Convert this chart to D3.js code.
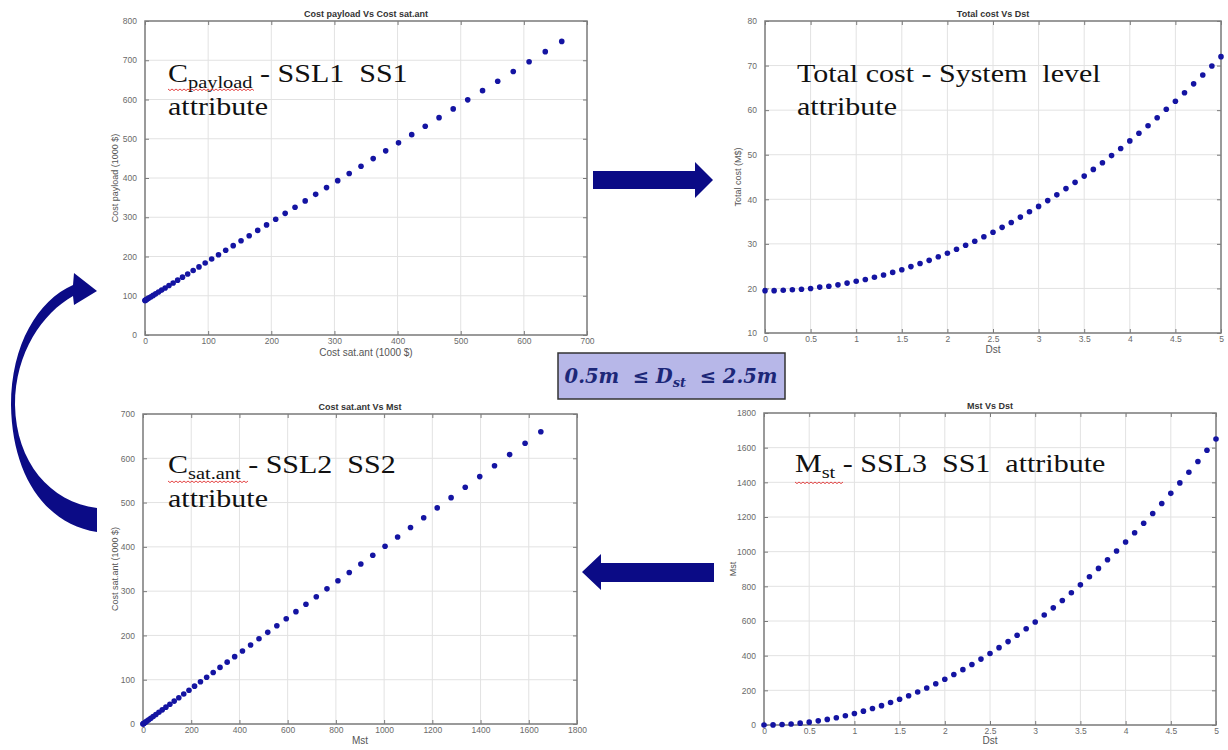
<!DOCTYPE html>
<html><head><meta charset="utf-8">
<script src="https://cdn.jsdelivr.net/npm/d3@7"></script>
<style>
html,body{margin:0;padding:0;background:#fff;}
svg{display:block;}
.tick text{font-family:"Liberation Sans",Arial,sans-serif;font-size:8.5px;fill:#6a6a6a;}
</style></head>
<body>
<svg id="c" width="1228" height="750"></svg>
<script>
// ---------- data ----------
const dst = [0,0.1,0.2,0.3,0.4,0.5,0.6,0.7,0.8,0.9,1.0,1.1,1.2,1.3,1.4,1.5,1.6,1.7,1.8,1.9,2.0,2.1,2.2,2.3,2.4,2.5,2.6,2.7,2.8,2.9,3.0,3.1,3.2,3.3,3.4,3.5,3.6,3.7,3.8,3.9,4.0,4.1,4.2,4.3,4.4,4.5,4.6,4.7,4.8,4.9,5.0];
const totalCost = [19.5,19.5,19.6,19.7,19.8,20.0,20.3,20.5,20.8,21.2,21.6,22.0,22.5,23.0,23.6,24.2,24.9,25.6,26.3,27.1,27.9,28.8,29.7,30.6,31.6,32.6,33.7,34.8,36.0,37.2,38.4,39.7,41.0,42.4,43.8,45.2,46.7,48.2,49.8,51.4,53.1,54.8,56.5,58.3,60.2,62.0,63.9,65.9,67.9,69.9,72.0];
const mst = [0,0.7,2.6,5.9,10.6,16.5,23.8,32.3,42.2,53.5,66,79.9,95,111.5,129.4,148.5,169,190.7,213.8,238.3,264,291.1,319.4,349.1,380.2,412.5,446.2,481.1,517.4,555.1,594,634.3,675.8,718.7,763,808.5,855.4,903.5,953,1003.9,1056,1109.5,1164.2,1220.3,1277.8,1336.5,1396.6,1457.9,1520.6,1584.7,1650];
const costSatAnt = [0,0.3,1.1,2.4,4.2,6.6,9.5,12.9,16.9,21.4,26.4,31.9,38.0,44.6,51.7,59.4,67.6,76.3,85.5,95.3,105.6,116.4,127.8,139.7,152.1,165.0,178.5,192.5,207.0,222.0,237.6,253.7,270.3,287.5,305.2,323.4,342.1,361.4,381.2,401.5,422.4,443.8,465.7,488.1,511.1,534.6,558.6,583.2,608.3,633.9,660];
const costPayload = [88,88.3,89.1,90.4,92.2,94.6,97.5,100.9,104.9,109.4,114.4,119.9,126.0,132.6,139.7,147.4,155.6,164.3,173.5,183.3,193.6,204.4,215.8,227.7,240.1,253.0,266.5,280.5,295.0,310.0,325.6,341.7,358.3,375.5,393.2,411.4,430.1,449.4,469.2,489.5,510.4,531.8,553.7,576.1,599.1,622.6,646.6,671.2,696.3,721.9,748];

const ticksPayX = [0,100,200,300,400,500,600,700];
const ticksPayY = [0,100,200,300,400,500,600,700,800];
const ticksDst = [0,0.5,1,1.5,2,2.5,3,3.5,4,4.5,5];
const ticksTotY = [10,20,30,40,50,60,70,80];
const ticksMstX = [0,200,400,600,800,1000,1200,1400,1600,1800];
const ticksSatY = [0,100,200,300,400,500,600,700];
const ticksMstY = [0,200,400,600,800,1000,1200,1400,1600,1800];

const titles = ["Cost payload Vs Cost sat.ant","Total cost Vs Dst","Cost sat.ant Vs Mst","Mst Vs Dst"];
const xLabels = ["Cost sat.ant (1000 $)","Dst","Mst","Dst"];
const yLabels = ["Cost payload (1000 $)","Total cost (M$)","Cost sat.ant (1000 $)","Mst"];

// ---------- drawing ----------
const svg = d3.select("#c");
const navy = "#0b0b86";
const fmtDst = d => String(d);

function panel(o){
  const g = svg.append("g");
  const x = d3.scaleLinear().domain(o.xd).range(o.xr);
  const y = d3.scaleLinear().domain(o.yd).range(o.yr);
  const [x0,x1] = o.xr, [y1,y0] = o.yr; // y1 bottom, y0 top
  // grid
  g.append("g").selectAll("line").data(o.xt).join("line")
    .attr("x1",d=>x(d)).attr("x2",d=>x(d)).attr("y1",y0).attr("y2",y1)
    .attr("stroke","#e2e2e2").attr("stroke-width",1);
  g.append("g").selectAll("line").data(o.yt).join("line")
    .attr("y1",d=>y(d)).attr("y2",d=>y(d)).attr("x1",x0).attr("x2",x1)
    .attr("stroke","#e2e2e2").attr("stroke-width",1);
  // axes
  const ax = (a)=>a.call(s=>s.select(".domain").remove()).call(s=>s.selectAll(".tick line").attr("stroke","#7a7a7a"));
  g.append("g").attr("transform",`translate(0,${y1})`)
    .call(d3.axisBottom(x).tickValues(o.xt).tickSize(-4).tickPadding(3).tickFormat(o.xf||d3.format("d"))).call(ax);
  g.append("g").attr("transform",`translate(0,${y0})`)
    .call(d3.axisTop(x).tickValues(o.xt).tickSize(-4).tickFormat("")).call(ax);
  g.append("g").attr("transform",`translate(${x0},0)`)
    .call(d3.axisLeft(y).tickValues(o.yt).tickSize(-4).tickPadding(8).tickFormat(d3.format("d"))).call(ax);
  g.append("g").attr("transform",`translate(${x1},0)`)
    .call(d3.axisRight(y).tickValues(o.yt).tickSize(-4).tickFormat("")).call(ax);
  // frame
  g.append("rect").attr("x",x0).attr("y",y0).attr("width",x1-x0).attr("height",y1-y0)
    .attr("fill","none").attr("stroke","#7d7d7d").attr("stroke-width",1.5);
  // points
  g.append("g").selectAll("circle").data(o.xs.map((v,i)=>[v,o.ys[i]])).join("circle")
    .attr("cx",d=>x(d[0])).attr("cy",d=>y(d[1])).attr("r",2.8).attr("fill","#1414a2");
  // title & labels
  g.append("text").attr("x",(x0+x1)/2).attr("y",y0-4).attr("text-anchor","middle")
    .attr("font-family","Liberation Sans, Arial, sans-serif").attr("font-weight","bold").attr("font-size",9).attr("fill","#333")
    .text(o.title);
  g.append("text").attr("x",(x0+x1)/2).attr("y",y1+o.xly).attr("text-anchor","middle")
    .attr("font-family","Liberation Sans, Arial, sans-serif").attr("font-size",10).attr("fill","#555")
    .text(o.xl);
  g.append("text").attr("transform",`translate(${o.ylx},${(y0+y1)/2}) rotate(-90)`).attr("text-anchor","middle")
    .attr("font-family","Liberation Sans, Arial, sans-serif").attr("font-size",9).attr("fill","#555")
    .text(o.yl);
}

panel({xd:[0,700],xr:[145,587],yd:[0,800],yr:[335,21],xt:ticksPayX,yt:ticksPayY,xs:costSatAnt,ys:costPayload,title:titles[0],xl:xLabels[0],yl:yLabels[0],ylx:118,xly:21});
panel({xd:[0,5],xr:[765,1221],yd:[10,80],yr:[333,21],xt:ticksDst,yt:ticksTotY,xf:fmtDst,xs:dst,ys:totalCost,title:titles[1],xl:xLabels[1],yl:yLabels[1],ylx:741,xly:20});
panel({xd:[0,1800],xr:[143,577],yd:[0,700],yr:[724,414],xt:ticksMstX,yt:ticksSatY,xs:mst,ys:costSatAnt,title:titles[2],xl:xLabels[2],yl:yLabels[2],ylx:118,xly:20});
panel({xd:[0,5],xr:[764,1216],yd:[0,1800],yr:[725,413],xt:ticksDst,yt:ticksMstY,xf:fmtDst,xs:dst,ys:mst,title:titles[3],xl:xLabels[3],yl:yLabels[3],ylx:736,xly:19});

// ---------- annotations ----------
function note(tx,ty,parts){
  const g = svg.append("g").attr("transform",`translate(${tx},${ty}) scale(1.2,1)`);
  const t = g.append("text").attr("font-family","'Liberation Serif', 'Times New Roman', serif").attr("fill","#111").style("white-space","pre");
  parts.forEach(p=>{
    t.append("tspan").attr("font-size",p.sub?17:25).attr("dy",p.dy||0).text(p.t);
  });
}
function wavy(xa,xb,yy){
  let d = `M${xa},${yy}`;
  for(let xx=xa, k=0; xx<xb; xx+=2, k++) d += ` L${xx+2},${yy+(k%2?0:1.6)}`;
  svg.append("path").attr("d",d).attr("fill","none").attr("stroke","#e03030").attr("stroke-width",0.9);
}
note(168,82,[{t:"C"},{t:"payload",sub:true,dy:6},{t:" - SSL1  SS1",dy:-6}]);
note(168,115,[{t:"attribute"}]);
wavy(168,253,89);
note(797,82,[{t:"Total cost - System  level"}]);
note(797,115,[{t:"attribute"}]);
note(168,473,[{t:"C"},{t:"sat.ant",sub:true,dy:6},{t:" - SSL2  SS2",dy:-6}]);
note(168,507,[{t:"attribute"}]);
wavy(168,247,481);
note(795,472,[{t:"M"},{t:"st",sub:true,dy:6},{t:" - SSL3  SS1  attribute",dy:-6}]);
wavy(795,842,482);

// ---------- centre box ----------
svg.append("rect").attr("x",558).attr("y",353).attr("width",227).attr("height",46)
  .attr("fill","#b7b7e8").attr("stroke","#333").attr("stroke-width",1.5);
const bt = svg.append("text").attr("x",671).attr("y",383).attr("text-anchor","middle")
  .attr("font-family","DejaVu Serif, Liberation Serif, serif").attr("font-style","italic").attr("font-weight","bold")
  .attr("font-size",19.5).attr("fill","#1c2778").style("white-space","pre");
bt.append("tspan").text("0.5m  \u2264 D");
bt.append("tspan").attr("font-size",13).attr("dy",4).text("st");
bt.append("tspan").attr("dy",-4).text("  \u2264 2.5m");

// ---------- arrows ----------
svg.append("path").attr("fill",navy)
  .attr("d","M593,171 L695,171 L695,162 L713,180 L695,198 L695,189 L593,189 Z");
svg.append("path").attr("fill",navy)
  .attr("d","M714,563 L601,563 L601,554 L582,572 L601,590 L601,582 L714,582 Z");
svg.append("path").attr("fill",navy)
  .attr("d","M97,532 C45,524 12,475 11,405 C11,345 38,300 73,285 L74,273 L97,291 L74,305 L73,296 C43,313 15,352 15,405 C16,462 50,502 97,508 Z");
</script>
</body></html>
